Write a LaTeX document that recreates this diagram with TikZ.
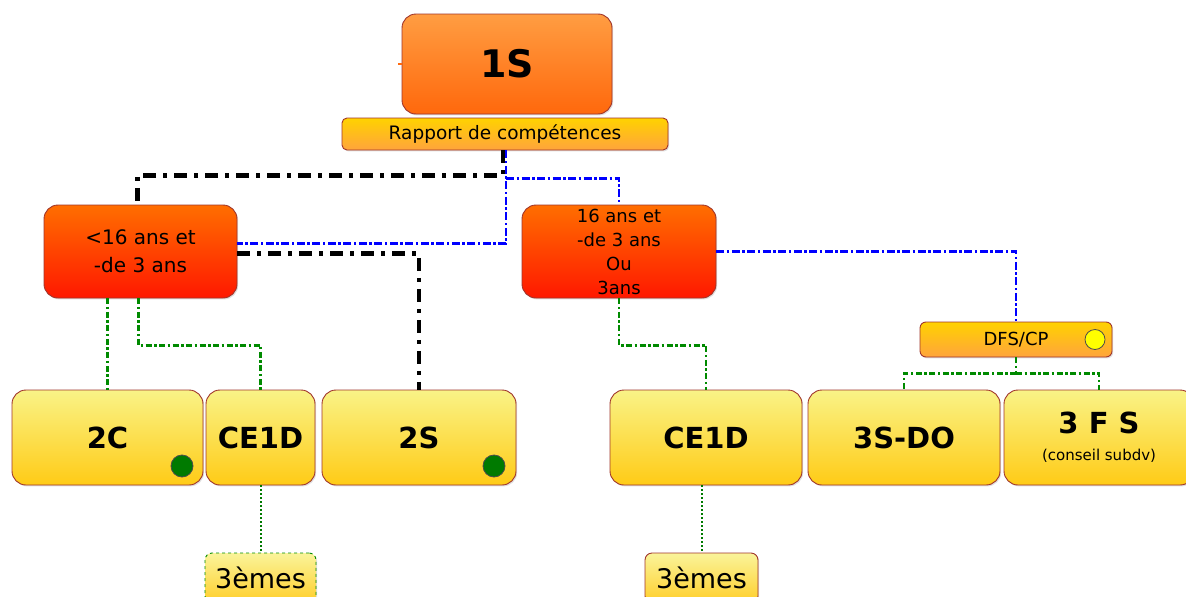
\documentclass[tikz,border=0pt]{standalone}
\usepackage{fontspec}
\setmainfont{DejaVu Sans}
\usetikzlibrary{shadows}
\definecolor{boxedge}{HTML}{A0352B}
\definecolor{linkblue}{HTML}{0000FF}
\definecolor{linkgreen}{HTML}{008A00}
\definecolor{dotgreen}{HTML}{007A00}
\definecolor{oneTop}{HTML}{FF9D42}
\definecolor{oneBot}{HTML}{FF680C}
\definecolor{ageTop}{HTML}{FF6E00}
\definecolor{ageBot}{HTML}{FF1800}
\definecolor{tagTop}{HTML}{FFD200}
\definecolor{tagBot}{HTML}{FFA43C}
\definecolor{clsTop}{HTML}{F9F387}
\definecolor{clsBot}{HTML}{FFCB16}
\definecolor{leafTop}{HTML}{FAF49A}
\definecolor{leafBot}{HTML}{FFCE2A}
\definecolor{tick}{HTML}{FF6A10}
\definecolor{okdot}{HTML}{007A00}
\definecolor{warndot}{HTML}{FFFF00}
\begin{document}
\begin{tikzpicture}[x=1pt,y=-1pt,
  box/.style={draw=boxedge, line width=0.9pt, inner sep=0pt, align=center,
    drop shadow={shadow xshift=1.2pt, shadow yshift=-1.4pt, opacity=0.25}},
  topbox/.style={box, rounded corners=14pt, top color=oneTop, bottom color=oneBot},
  agebox/.style={box, rounded corners=14pt, top color=ageTop, bottom color=ageBot},
  tagbox/.style={box, rounded corners=5pt, top color=tagTop, bottom color=tagBot},
  classbox/.style={box, rounded corners=14pt, minimum height=95pt, top color=clsTop, bottom color=clsBot,
    font=\bfseries\fontsize{29}{32}\selectfont},
  leafbox/.style={box, rounded corners=7pt, minimum height=50pt, top color=leafTop, bottom color=leafBot,
    font=\fontsize{27}{28}\selectfont},
  blk/.style={line width=4.5pt, dash pattern=on 13pt off 7pt on 4pt off 7pt},
  blu/.style={draw=linkblue, line width=2.4pt, dash pattern=on 8pt off 2.5pt on 2.5pt off 2.5pt},
  grn/.style={draw=linkgreen, line width=2.4pt, dash pattern=on 6pt off 2.5pt on 2.5pt off 2.5pt},
  dotg/.style={draw=dotgreen, line width=2pt, dash pattern=on 2pt off 2pt},
  dot/.style={circle, draw=black!70, line width=0.8pt, inner sep=0pt}]

\useasboundingbox (0,0) rectangle (1186,597);
\clip (0,0) rectangle (1186,597);

% top of the tree
\node[topbox, minimum width=210pt, minimum height=100pt, font=\bfseries\fontsize{38}{40}\selectfont] (s1) at (507,64) {1S};
\draw[draw=tick, line width=1.5pt] (s1.west) -- ++(-4,0);
\node[tagbox, minimum width=326pt, minimum height=32pt, font=\fontsize{18.5}{22}\selectfont] (rap) at (505,134) {Rapport de compétences};

% age branches
\node[agebox, minimum width=193pt, minimum height=93pt, font=\fontsize{20}{28}\selectfont] (lt) at (140.5,251.5) {<16 ans et\\-de 3 ans};
\node[agebox, minimum width=194pt, minimum height=93pt, font=\fontsize{18}{24}\selectfont] (rt) at (619,251.5) {16 ans et\\-de 3 ans\\Ou\\3ans};
\node[tagbox, rounded corners=6pt, minimum width=192pt, minimum height=35pt, font=\fontsize{18}{20}\selectfont] (dfs) at (1016,339.5) {DFS/CP};
\node[dot, fill=warndot, minimum size=20pt] (ydot) at (1095,339.5) {};

% classes
\node[classbox, minimum width=191pt] (c2) at (107.5,437.5) {2C};
\node[classbox, minimum width=109pt] (ce1) at (260.5,437.5) {CE1D};
\node[classbox, minimum width=194pt] (s2) at (419,437.5) {2S};
\node[classbox, minimum width=192pt] (ce2) at (706,437.5) {CE1D};
\node[classbox, minimum width=192pt] (sdo) at (904,437.5) {3S-DO};
\node[classbox, minimum width=190pt] (fs) at (1099,437.5) {3 F S\\[-5pt]{\mdseries\fontsize{15}{17}\selectfont (conseil subdv)}};
\node[dot, fill=okdot, minimum size=22pt] (g1) at (182,466) {};
\node[dot, fill=okdot, minimum size=22pt] (g2) at (494,466) {};

% follow-up classes
\node[leafbox, draw=linkgreen, dashed, minimum width=111pt] (e1) at (260.5,578) {3èmes};
\node[leafbox, minimum width=113pt] (e2) at (701.5,578) {3èmes};

% connectors
\draw[blk] ([xshift=-2pt]rap.south) -- ++(0,25) -| ([xshift=-3pt]lt.north);
\draw[blu] ([xshift=1pt]rap.south) |- ([yshift=8pt]lt.east);
\draw[blu] ([xshift=1pt]rap.south) ++(0,28) -| (rt.north);
\draw[blk] ([yshift=-2pt]lt.east) -| (s2.north);
\draw[blu] (rt.east) -| (dfs.north);
\draw[grn] (dfs.south) -- ++(0,16) coordinate (fork);
\draw[grn] (fork) -| (sdo.north);
\draw[grn] (fork) -| (fs.north);
\draw[grn] (c2.north |- lt.south) -- (c2.north);
\draw[grn] ([xshift=-2pt]lt.south) -- ++(0,47) -| (ce1.north);
\draw[grn] (rt.south) -- ++(0,47) -| (ce2.north);
\draw[dotg] (ce1.south) -- (e1.north);
\draw[dotg] (e2.north |- ce2.south) -- (e2.north);
\end{tikzpicture}
\end{document}
